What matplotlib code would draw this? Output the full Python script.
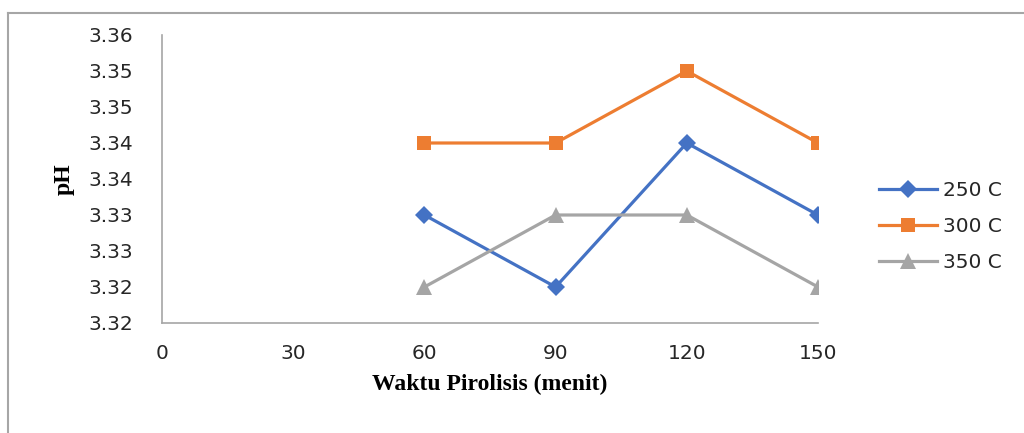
import numpy as np
import matplotlib
matplotlib.use('Agg')
import matplotlib.pyplot as plt
from matplotlib.lines import Line2D

# ---- data ----
waktu      = [60, 90, 120, 150]
ph_250     = [3.335, 3.325, 3.345, 3.335]
ph_300     = [3.345, 3.345, 3.355, 3.345]
ph_350     = [3.325, 3.335, 3.335, 3.325]

x_ticks    = [0, 30, 60, 90, 120, 150]
y_ticks    = [3.32, 3.325, 3.33, 3.335, 3.34, 3.345, 3.35, 3.355, 3.36]
y_labels   = ['3.32', '3.32', '3.33', '3.33', '3.34', '3.34', '3.35', '3.35', '3.36']

series = [
    ('250 C', ph_250, '#4472C4', 'D', 9.5),
    ('300 C', ph_300, '#ED7D31', 's', 10.5),
    ('350 C', ph_350, '#A5A5A5', '^', 12),
]

fig = plt.figure(figsize=(10.24, 4.33), dpi=100)
ax  = fig.add_axes([162/1024, 1-323/433, (818-162)/1024, (323-35)/433])

for name, vals, col, mk, ms in series:
    ax.plot(waktu, vals, color=col, lw=2.3, marker=mk, markersize=ms,
            markeredgewidth=0, label=name)

ax.set_xlim(0, 150)
ax.set_ylim(3.32, 3.36)
ax.set_xticks(x_ticks)
ax.set_yticks(y_ticks)
ax.set_yticklabels(y_labels)

for s in ['top', 'right']:
    ax.spines[s].set_visible(False)
for s in ['left', 'bottom']:
    ax.spines[s].set_color('#A6A6A6')
    ax.spines[s].set_linewidth(1.2)

ax.tick_params(axis='both', length=0, labelsize=14.5, labelcolor='#262626')
ax.tick_params(axis='y', pad=21)
ax.tick_params(axis='x', pad=15)

ax.set_xlabel('Waktu Pirolisis (menit)', family='Liberation Serif', fontweight='bold',
              fontsize=17, labelpad=8)
ax.set_ylabel('pH', family='Liberation Serif', fontweight='bold', fontsize=17, labelpad=10)

leg = ax.legend(loc='center left', bbox_to_anchor=(1.065, 0.335), frameon=False,
                fontsize=14.5, handlelength=2.9, handletextpad=0.3, labelspacing=0.85)
for t in leg.get_texts():
    t.set_color('#262626')

# outer chart border (only left and top visible in the crop)
fig.add_artist(Line2D([7.5/1024, 7.5/1024], [0, 1-12.5/433], transform=fig.transFigure,
                      color='#A6A6A6', lw=1.5))
fig.add_artist(Line2D([7.5/1024, 1], [1-12.5/433, 1-12.5/433], transform=fig.transFigure,
                      color='#A6A6A6', lw=1.5))

plt.savefig('out.png', dpi=100)
